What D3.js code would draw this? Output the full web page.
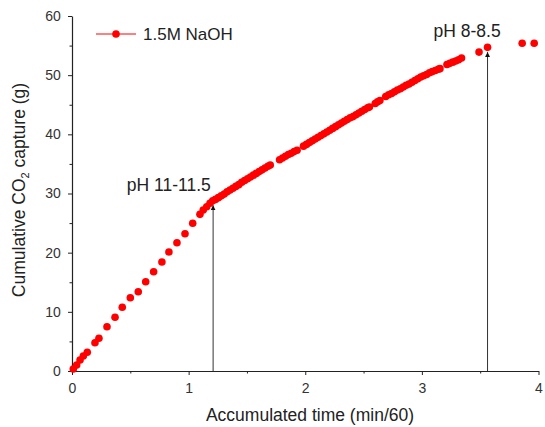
<!DOCTYPE html>
<html><head><meta charset="utf-8">
<script src="https://cdn.jsdelivr.net/npm/d3@7"></script>
<style>body{margin:0;background:#fff;} svg{display:block;font-family:"Liberation Sans",Arial,sans-serif;}</style>
</head><body>
<script>
const timeH = [0.011,0.04,0.069,0.097,0.131,0.197,0.231,0.30,0.369,0.431,0.50,0.568,0.632,0.70,0.771,0.831,0.90,0.969,1.035,1.097,1.125,1.155,1.183,1.206,
1.23,1.255,1.28,1.305,1.33,1.355,1.38,1.405,1.43,1.455,1.48,1.505,1.53,1.555,1.58,1.605,1.63,1.655,1.68,1.70,
1.78,1.805,1.83,1.855,1.88,1.905,1.93,
1.985,2.01,2.035,2.06,2.085,2.11,2.135,2.16,2.185,2.21,2.235,2.26,2.285,2.31,2.335,2.36,2.385,2.41,2.435,2.46,2.485,2.51,2.535,2.55,
2.6,2.62,2.64,
2.69,2.715,2.74,2.765,2.79,2.815,2.84,2.865,2.89,2.915,2.94,2.965,2.99,3.015,3.04,3.065,3.09,3.115,3.14,3.155,
3.215,3.24,3.265,3.29,3.315,3.34,
3.49,3.563,3.86,3.963];
const co2Capture = [0.34,1.0,1.86,2.54,3.16,4.78,5.53,7.49,9.08,10.77,12.39,13.4,15.09,16.78,18.42,20.11,21.68,23.2,24.96,26.48,27.2,27.77,28.34,28.78,
29.0,29.3,29.6,29.9,30.3,30.6,30.9,31.2,31.5,31.9,32.2,32.5,32.8,33.1,33.4,33.7,34.0,34.3,34.6,34.8,
35.7,36.0,36.3,36.6,36.8,37.1,37.3,
38.0,38.3,38.6,38.9,39.2,39.5,39.8,40.1,40.4,40.7,41.0,41.3,41.6,41.9,42.2,42.5,42.8,43.0,43.3,43.6,43.9,44.2,44.5,44.6,
45.2,45.5,45.7,
46.4,46.7,46.9,47.2,47.5,47.7,48.0,48.3,48.5,48.8,49.1,49.4,49.7,49.9,50.1,50.4,50.6,50.8,51.0,51.1,
51.8,52.0,52.2,52.4,52.6,52.9,
53.9,54.7,55.4,55.4];
const xTicks = [0,1,2,3,4];
const yTicks = [0,10,20,30,40,50,60];
const seriesName = "1.5M NaOH";
const annotations = [
  {x:1.21, yTip:28.0, label:"pH 11-11.5", lx:0.47, ly:30.5},
  {x:3.563, yTip:53.9, label:"pH 8-8.5", lx:3.1, ly:56.5}
];

const W=545,H=427;
const svg=d3.select("body").append("svg").attr("width",W).attr("height",H);
const x=d3.scaleLinear().domain([0,4]).range([72,538.5]);
const y=d3.scaleLinear().domain([0,60]).range([371,16]);

// axes
const xAxis=svg.append("g").attr("transform","translate(0,371)")
  .call(d3.axisBottom(x).tickValues(xTicks).tickFormat(d3.format("d")).tickSizeInner(4).tickSizeOuter(0));
const yAxis=svg.append("g").attr("transform","translate(72,0)")
  .call(d3.axisLeft(y).tickValues(yTicks).tickFormat(d3.format("d")).tickSizeInner(4).tickSizeOuter(0));
// minor ticks
svg.append("g").attr("transform","translate(0,371)")
  .call(d3.axisBottom(x).tickValues([0.5,1.5,2.5,3.5]).tickFormat("").tickSizeInner(2.5).tickSizeOuter(0))
  .select(".domain").remove();
svg.append("g").attr("transform","translate(72,0)")
  .call(d3.axisLeft(y).tickValues([5,15,25,35,45,55]).tickFormat("").tickSizeInner(2.5).tickSizeOuter(0))
  .select(".domain").remove();
svg.selectAll(".domain").attr("stroke","#222").attr("stroke-width",1.2);
svg.selectAll(".tick line").attr("stroke","#222");
svg.selectAll(".tick text").attr("font-size",14).attr("fill","#333").attr("font-family","Liberation Sans, Arial, sans-serif");
xAxis.selectAll(".tick text").attr("dy","1.05em");
yAxis.selectAll(".tick text").attr("dx","-0.3em");

// axis titles
svg.append("text").attr("x",310).attr("y",421).attr("text-anchor","middle")
  .attr("font-size",17.5).attr("fill","#222").text("Accumulated time (min/60)");
const yt=svg.append("text").attr("transform","translate(24.5,190) rotate(-90)").attr("text-anchor","middle")
  .attr("font-size",17.5).attr("fill","#222");
yt.append("tspan").text("Cumulative CO");
yt.append("tspan").attr("font-size",11).attr("dy",4).text("2");
yt.append("tspan").attr("dy",-4).text(" capture (g)");

// arrows
const defs=svg.append("defs");
defs.append("marker").attr("id","arr").attr("viewBox","0 0 10 10").attr("refX",10).attr("refY",5)
  .attr("markerWidth",5).attr("markerHeight",5).attr("markerUnits","userSpaceOnUse").attr("orient","auto")
  .append("path").attr("d","M0,0L10,5L0,10Z").attr("fill","#111");
svg.selectAll(".arrow").data(annotations).enter().append("line")
  .attr("x1",d=>x(d.x)).attr("x2",d=>x(d.x)).attr("y1",y(0)).attr("y2",d=>y(d.yTip))
  .attr("stroke","#333").attr("stroke-width",1).attr("marker-end","url(#arr)");
svg.selectAll(".alabel").data(annotations).enter().append("text")
  .attr("x",d=>x(d.lx)).attr("y",d=>y(d.ly)).attr("font-size",17.5).attr("fill","#222").text(d=>d.label);

// data
svg.append("g").selectAll("circle").data(timeH.map((t,i)=>[t,co2Capture[i]])).enter().append("circle")
  .attr("cx",d=>x(d[0])).attr("cy",d=>y(d[1])).attr("r",3.8).attr("fill","#ff0000");

// legend
const lg=svg.append("g");
lg.append("line").attr("x1",96).attr("x2",136).attr("y1",34).attr("y2",34).attr("stroke","#ff0000").attr("stroke-width",1);
lg.append("circle").attr("cx",116).attr("cy",34).attr("r",3.8).attr("fill","#ff0000");
lg.append("text").attr("x",143).attr("y",40).attr("font-size",17).attr("fill","#222").text(seriesName);
</script>
</body></html>
